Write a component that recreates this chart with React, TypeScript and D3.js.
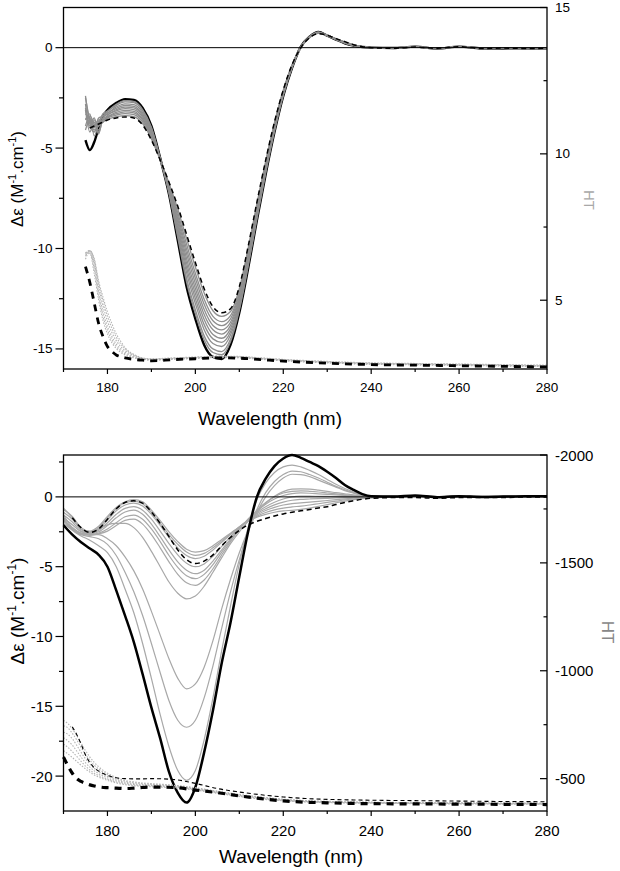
import React from "react";
import * as d3 from "d3";

// ---------------- TOP PANEL DATA ----------------
const WL_TOP = [175, 176, 177, 178, 179, 180, 182, 184, 186, 188, 190, 192, 194, 196, 198, 200, 202, 204, 206, 208, 210, 212, 214, 216, 218, 220, 222, 224, 226, 228, 230, 232, 234, 236, 238, 240, 245, 250, 255, 260, 265, 270, 275, 280];
const TOP_BLACK = [-4.6, -5.1, -4.7, -4.0, -3.4, -3.1, -2.75, -2.56, -2.6, -3.0, -3.9, -5.5, -7.3, -9.6, -11.9, -13.5, -14.8, -15.4, -15.5, -14.8, -13.2, -11.0, -8.6, -6.3, -4.2, -2.4, -1.0, 0.05, 0.55, 0.78, 0.6, 0.4, 0.22, 0.1, 0.03, 0.0, -0.02, 0.05, -0.04, 0.05, -0.03, -0.04, -0.03, -0.05];
const TOP_DASHED = [null, -4.0, -3.9, -3.8, -3.7, -3.6, -3.5, -3.45, -3.5, -3.85, -4.6, -5.6, -6.7, -7.9, -9.3, -10.7, -12.0, -12.9, -13.2, -13.0, -11.9, -9.9, -7.7, -5.6, -3.7, -2.1, -0.85, 0.0, 0.5, 0.7, 0.62, 0.45, 0.3, 0.15, 0.05, 0.0, -0.03, 0.03, -0.03, 0.05, -0.04, -0.02, -0.04, -0.03];
const TOP_GREY_1 = [-3.0, -3.9, -3.5, -4.2, -3.6, -3.56, -3.44, -3.38, -3.43, -3.78, -4.54, -5.59, -6.75, -8.04, -9.51, -10.92, -12.22, -13.1, -13.38, -13.14, -12.0, -9.99, -7.77, -5.66, -3.74, -2.12, -0.86, 0.0, 0.5, 0.71, 0.62, 0.45, 0.29, 0.15, 0.05, 0.0, -0.03, 0.04, -0.04, 0.05, -0.03, -0.03, -0.04, -0.04];
const TOP_GREY_2 = [-2.5, -3.6, -4.1, -3.9, -3.7, -3.51, -3.36, -3.28, -3.33, -3.69, -4.47, -5.58, -6.81, -8.22, -9.79, -11.23, -12.53, -13.38, -13.64, -13.34, -12.15, -10.11, -7.87, -5.73, -3.8, -2.16, -0.88, 0.01, 0.51, 0.72, 0.62, 0.44, 0.28, 0.14, 0.05, 0.0, -0.02, 0.05, -0.03, 0.06, -0.04, -0.02, -0.05, -0.03];
const TOP_GREY_3 = [-3.6, -3.3, -4.4, -3.8, -3.6, -3.46, -3.29, -3.2, -3.25, -3.61, -4.4, -5.57, -6.87, -8.38, -10.03, -11.48, -12.78, -13.6, -13.84, -13.5, -12.26, -10.21, -7.95, -5.8, -3.84, -2.18, -0.89, 0.01, 0.51, 0.72, 0.61, 0.44, 0.28, 0.14, 0.04, 0.0, -0.04, 0.03, -0.05, 0.04, -0.02, -0.04, -0.03, -0.05];
const TOP_GREY_4 = [-2.8, -4.0, -3.7, -4.3, -3.5, -3.42, -3.22, -3.12, -3.17, -3.54, -4.34, -5.56, -6.92, -8.53, -10.26, -11.74, -13.04, -13.83, -14.05, -13.67, -12.38, -10.31, -8.03, -5.86, -3.89, -2.21, -0.91, 0.02, 0.52, 0.73, 0.61, 0.43, 0.27, 0.13, 0.04, 0.0, -0.01, 0.05, -0.04, 0.05, -0.03, -0.03, -0.04, -0.02];
const TOP_GREY_5 = [-3.3, -3.5, -3.9, -3.6, -3.7, -3.37, -3.15, -3.04, -3.09, -3.46, -4.28, -5.55, -6.98, -8.68, -10.5, -11.99, -13.29, -14.05, -14.26, -13.83, -12.5, -10.41, -8.11, -5.92, -3.93, -2.24, -0.92, 0.02, 0.52, 0.74, 0.61, 0.43, 0.26, 0.13, 0.04, 0.0, -0.03, 0.04, -0.04, 0.04, -0.04, -0.02, -0.04, -0.04];
const TOP_GREY_6 = [-2.4, -3.8, -4.2, -3.7, -3.4, -3.33, -3.09, -2.96, -3.0, -3.38, -4.21, -5.55, -7.03, -8.84, -10.73, -12.24, -13.54, -14.28, -14.47, -13.99, -12.62, -10.51, -8.2, -5.99, -3.98, -2.27, -0.93, 0.03, 0.53, 0.74, 0.61, 0.42, 0.26, 0.12, 0.04, 0.0, -0.02, 0.06, -0.05, 0.05, -0.02, -0.05, -0.03, -0.05];
const TOP_GREY_7 = [-3.9, -3.4, -3.8, -4.1, -3.5, -3.28, -3.02, -2.88, -2.92, -3.31, -4.15, -5.54, -7.08, -8.99, -10.96, -12.49, -13.79, -14.5, -14.67, -14.15, -12.73, -10.6, -8.28, -6.05, -4.02, -2.29, -0.95, 0.03, 0.53, 0.75, 0.61, 0.42, 0.25, 0.12, 0.04, 0.0, -0.03, 0.05, -0.03, 0.04, -0.03, -0.03, -0.05, -0.03];
const TOP_GREY_8 = [-3.1, -4.2, -3.6, -3.9, -3.3, -3.24, -2.95, -2.8, -2.84, -3.23, -4.09, -5.53, -7.14, -9.14, -11.2, -12.74, -14.04, -14.73, -14.88, -14.31, -12.85, -10.7, -8.36, -6.11, -4.07, -2.32, -0.96, 0.04, 0.54, 0.76, 0.6, 0.41, 0.24, 0.11, 0.03, 0.0, -0.02, 0.04, -0.04, 0.05, -0.04, -0.04, -0.03, -0.04];
const TOP_GREY_9 = [-3.5, -3.7, -4.0, -3.5, -3.4, -3.18, -2.87, -2.7, -2.74, -3.14, -4.01, -5.52, -7.2, -9.33, -11.48, -13.05, -14.35, -15.0, -15.13, -14.51, -12.99, -10.82, -8.46, -6.19, -4.12, -2.35, -0.98, 0.04, 0.54, 0.77, 0.6, 0.41, 0.23, 0.11, 0.03, 0.0, -0.03, 0.05, -0.04, 0.05, -0.03, -0.04, -0.04, -0.05];
const TOP_GREY_10 = [-4.1, -3.6, -3.9, -3.7, -3.3, -3.15, -2.82, -2.64, -2.68, -3.08, -3.96, -5.51, -7.25, -9.45, -11.67, -13.25, -14.55, -15.18, -15.29, -14.64, -13.08, -10.9, -8.52, -6.24, -4.16, -2.37, -0.99, 0.05, 0.55, 0.77, 0.6, 0.4, 0.23, 0.1, 0.03, 0.0, -0.02, 0.05, -0.04, 0.05, -0.03, -0.04, -0.03, -0.05];
const TOP_GREYS = [TOP_GREY_1, TOP_GREY_2, TOP_GREY_3, TOP_GREY_4, TOP_GREY_5, TOP_GREY_6, TOP_GREY_7, TOP_GREY_8, TOP_GREY_9, TOP_GREY_10];

const WL_HT_TOP = [175, 176, 177, 178, 179, 180, 181, 182, 183, 184, 186, 188, 190, 195, 200, 205, 210, 215, 220, 230, 240, 250, 260, 270, 280];
const HT_TOP_BLACK = [6.15, 5.6, 4.9, 4.2, 3.75, 3.42, 3.25, 3.13, 3.07, 3.03, 2.98, 2.95, 2.93, 2.97, 3.0, 3.03, 3.02, 2.97, 2.92, 2.85, 2.8, 2.78, 2.76, 2.74, 2.72];
const HT_TOP_GREY_1 = [6.55, 6.6, 5.9, 5.0, 4.3, 3.85, 3.55, 3.35, 3.22, 3.13, 3.03, 2.98, 2.95, 2.98, 3.01, 3.04, 3.03, 2.98, 2.93, 2.86, 2.81, 2.79, 2.77, 2.75, 2.73];
const HT_TOP_GREY_2 = [6.6, 6.65, 6.05, 5.15, 4.45, 3.97, 3.65, 3.42, 3.28, 3.17, 3.05, 2.99, 2.96, 2.99, 3.02, 3.05, 3.04, 2.99, 2.94, 2.87, 2.82, 2.8, 2.78, 2.76, 2.74];
const HT_TOP_GREY_3 = [6.62, 6.68, 6.2, 5.3, 4.6, 4.1, 3.76, 3.5, 3.34, 3.22, 3.08, 3.0, 2.97, 3.0, 3.03, 3.06, 3.05, 3.0, 2.95, 2.88, 2.83, 2.81, 2.79, 2.77, 2.75];
const HT_TOP_GREY_4 = [6.6, 6.7, 6.3, 5.45, 4.8, 4.28, 3.9, 3.62, 3.42, 3.28, 3.11, 3.01, 2.98, 3.01, 3.04, 3.07, 3.06, 3.01, 2.96, 2.89, 2.84, 2.82, 2.8, 2.78, 2.76];
const HT_TOP_GREY_5 = [6.5, 6.7, 6.38, 5.58, 4.98, 4.45, 4.05, 3.74, 3.51, 3.34, 3.13, 3.02, 2.99, 3.02, 3.05, 3.08, 3.07, 3.02, 2.97, 2.9, 2.85, 2.83, 2.81, 2.79, 2.77];
const HT_TOP_GREY_6 = [6.4, 6.68, 6.42, 5.65, 5.1, 4.6, 4.2, 3.85, 3.6, 3.38, 3.15, 3.03, 3.0, 3.03, 3.06, 3.09, 3.08, 3.03, 2.98, 2.91, 2.86, 2.84, 2.82, 2.8, 2.78];
const HT_TOP_GREYS = [HT_TOP_GREY_1, HT_TOP_GREY_2, HT_TOP_GREY_3, HT_TOP_GREY_4, HT_TOP_GREY_5, HT_TOP_GREY_6];

// ---------------- BOTTOM PANEL DATA ----------------
const WL_BOT = [170, 172, 174, 176, 178, 180, 182, 184, 186, 188, 190, 192, 194, 196, 198, 200, 202, 204, 206, 208, 210, 212, 214, 216, 218, 220, 222, 224, 226, 228, 230, 232, 234, 236, 238, 240, 245, 250, 255, 260, 265, 270, 275, 280];
const BOT_BLACK = [-2.03, -2.7, -3.25, -3.7, -4.15, -5.0, -6.7, -8.5, -10.4, -12.7, -15.1, -17.3, -19.7, -21.2, -21.9, -20.8, -18.3, -15.3, -11.9, -9.0, -5.7, -2.5, 0.0, 1.3, 2.2, 2.75, 3.0, 2.8, 2.5, 2.2, 1.8, 1.35, 0.85, 0.5, 0.2, 0.05, 0.02, 0.1, -0.02, 0.05, 0.0, 0.02, 0.05, 0.05];
const BOT_DASHED = [null, -1.5, -2.2, -2.55, -2.3, -1.6, -0.85, -0.4, -0.28, -0.45, -1.08, -1.9, -2.85, -3.8, -4.5, -4.78, -4.6, -4.15, -3.5, -2.9, -2.4, -2.0, -1.75, -1.55, -1.37, -1.22, -1.1, -1.0, -0.9, -0.8, -0.7, -0.55, -0.4, -0.28, -0.17, -0.1, -0.05, -0.05, -0.1, -0.05, -0.05, -0.05, 0.0, 0.0];
const BOT_GREY_D1 = [-1.7, -2.4, -2.8, -3.1, -3.5, -4.0, -5.0, -6.6, -8.3, -10.5, -13.0, -15.6, -17.9, -19.6, -20.3, -19.6, -17.4, -14.4, -11.0, -7.8, -4.8, -2.2, -0.2, 1.0, 1.75, 2.15, 2.28, 2.15, 1.9, 1.6, 1.25, 0.9, 0.6, 0.35, 0.15, 0.05, 0.03, 0.08, 0.0, 0.06, 0.02, 0.03, 0.06, 0.04];
const BOT_GREY_D2 = [-1.5, -2.3, -2.7, -2.85, -3.0, -3.4, -4.2, -5.4, -6.8, -8.5, -10.5, -12.6, -14.6, -16.0, -16.5, -16.0, -14.4, -12.1, -9.4, -6.8, -4.5, -2.5, -0.9, 0.3, 1.1, 1.6, 1.85, 1.8, 1.6, 1.35, 1.05, 0.75, 0.5, 0.3, 0.13, 0.05, 0.02, 0.07, 0.01, 0.05, 0.03, 0.02, 0.07, 0.03];
const BOT_GREY_D3 = [-1.3, -2.2, -2.6, -2.7, -2.7, -3.0, -3.5, -4.3, -5.3, -6.6, -8.2, -9.9, -11.6, -13.0, -13.75, -13.4, -12.2, -10.3, -8.0, -5.9, -4.0, -2.4, -1.1, 0.0, 0.8, 1.35, 1.62, 1.6, 1.45, 1.2, 0.95, 0.7, 0.45, 0.27, 0.12, 0.04, 0.03, 0.06, 0.0, 0.05, 0.02, 0.04, 0.06, 0.05];
const BOT_GREY_S1 = [-0.9, -1.4, -2.2, -2.45, -2.1, -1.4, -0.75, -0.35, -0.2, -0.35, -0.95, -1.7, -2.5, -3.2, -3.75, -3.95, -3.85, -3.5, -3.05, -2.6, -2.15, -1.75, -1.45, -1.25, -1.1, -1.0, -0.96, -0.9, -0.8, -0.68, -0.55, -0.42, -0.3, -0.2, -0.12, -0.07, -0.02, 0.03, -0.03, 0.04, 0.0, 0.01, 0.05, 0.02];
const BOT_GREY_S2 = [-1.1, -1.6, -2.3, -2.5, -2.2, -1.5, -0.85, -0.42, -0.3, -0.5, -1.1, -1.9, -2.7, -3.4, -3.95, -4.19, -4.05, -3.65, -3.15, -2.65, -2.15, -1.72, -1.38, -1.12, -0.93, -0.8, -0.72, -0.66, -0.58, -0.49, -0.4, -0.31, -0.22, -0.15, -0.09, -0.05, 0.0, 0.04, -0.02, 0.05, 0.01, 0.02, 0.06, 0.03];
const BOT_GREY_S3 = [-0.8, -1.5, -2.35, -2.55, -2.3, -1.65, -1.0, -0.58, -0.45, -0.65, -1.25, -2.05, -2.9, -3.65, -4.2, -4.42, -4.25, -3.8, -3.25, -2.7, -2.15, -1.68, -1.3, -0.98, -0.75, -0.58, -0.48, -0.43, -0.38, -0.32, -0.26, -0.2, -0.14, -0.09, -0.05, -0.03, 0.01, 0.05, -0.01, 0.04, 0.02, 0.03, 0.05, 0.04];
const BOT_GREY_S4 = [-1.3, -1.8, -2.45, -2.6, -2.4, -1.85, -1.25, -0.82, -0.7, -0.95, -1.6, -2.45, -3.35, -4.15, -4.75, -5.0, -4.8, -4.25, -3.55, -2.85, -2.2, -1.65, -1.2, -0.85, -0.57, -0.37, -0.24, -0.18, -0.15, -0.12, -0.1, -0.08, -0.06, -0.04, -0.02, -0.01, 0.02, 0.06, 0.0, 0.05, 0.01, 0.02, 0.07, 0.03];
const BOT_GREY_S5 = [-1.5, -2.0, -2.5, -2.65, -2.5, -2.05, -1.5, -1.08, -0.95, -1.25, -1.95, -2.85, -3.8, -4.65, -5.25, -5.5, -5.25, -4.6, -3.8, -3.0, -2.25, -1.63, -1.12, -0.7, -0.38, -0.15, 0.0, 0.05, 0.05, 0.04, 0.03, 0.02, 0.02, 0.01, 0.0, 0.0, 0.03, 0.05, 0.01, 0.06, 0.02, 0.04, 0.06, 0.05];
const BOT_GREY_S6 = [-1.7, -2.2, -2.6, -2.7, -2.6, -2.3, -1.85, -1.42, -1.3, -1.6, -2.3, -3.2, -4.2, -5.05, -5.65, -5.86, -5.55, -4.85, -3.95, -3.1, -2.3, -1.6, -1.02, -0.52, -0.15, 0.1, 0.24, 0.28, 0.26, 0.22, 0.18, 0.14, 0.1, 0.07, 0.04, 0.02, 0.02, 0.06, 0.0, 0.04, 0.03, 0.02, 0.05, 0.04];
const BOT_GREY_S7 = [-1.9, -2.35, -2.65, -2.75, -2.65, -2.45, -2.05, -1.68, -1.6, -1.95, -2.7, -3.65, -4.65, -5.55, -6.15, -6.34, -5.95, -5.15, -4.15, -3.2, -2.35, -1.6, -0.95, -0.4, 0.0, 0.28, 0.4, 0.43, 0.4, 0.35, 0.28, 0.21, 0.15, 0.1, 0.06, 0.03, 0.03, 0.07, 0.01, 0.05, 0.02, 0.03, 0.06, 0.05];
const BOT_GREY_S8 = [-1.6, -2.3, -2.7, -2.6, -2.3, -2.0, -1.9, -1.9, -2.2, -2.9, -3.9, -5.0, -6.1, -6.9, -7.3, -7.1, -6.4, -5.4, -4.35, -3.35, -2.5, -1.75, -1.05, -0.45, 0.05, 0.38, 0.55, 0.58, 0.55, 0.48, 0.4, 0.3, 0.22, 0.14, 0.08, 0.04, 0.02, 0.06, 0.0, 0.05, 0.03, 0.02, 0.06, 0.04];
const BOT_GREYS = [BOT_GREY_D1, BOT_GREY_D2, BOT_GREY_D3, BOT_GREY_S1, BOT_GREY_S2, BOT_GREY_S3, BOT_GREY_S4, BOT_GREY_S5, BOT_GREY_S6, BOT_GREY_S7, BOT_GREY_S8];

const WL_HT_BOT = [170, 171, 172, 173, 174, 175, 176, 177, 178, 180, 182, 184, 186, 188, 190, 195, 200, 205, 210, 215, 220, 225, 230, 240, 250, 260, 270, 280];
const HT_BOT_BLACK = [-600, -560, -525, -500, -487, -478, -471, -466, -462, -458, -456, -454, -456, -459, -461, -459, -447, -435, -420, -407, -397, -391, -388, -384, -383, -382, -381, -380];
const HT_BOT_DASHED = [null, null, -740, -705, -660, -610, -575, -550, -535, -515, -504, -500, -499, -499, -500, -496, -478, -454, -438, -425, -415, -408, -404, -400, -398, -396, -394, -393];
const HT_BOT_GREY_1 = [-770, -755, -730, -700, -665, -630, -600, -575, -555, -525, -505, -492, -485, -480, -477, -470, -458, -442, -427, -415, -405, -399, -395, -391, -389, -388, -387, -386];
const HT_BOT_GREY_2 = [-745, -735, -710, -680, -645, -612, -585, -562, -545, -518, -500, -488, -481, -477, -474, -468, -456, -440, -425, -413, -403, -397, -393, -390, -388, -387, -386, -385];
const HT_BOT_GREY_3 = [-715, -705, -685, -655, -622, -592, -568, -548, -533, -510, -494, -483, -477, -473, -471, -465, -453, -438, -423, -411, -401, -395, -392, -389, -387, -386, -385, -384];
const HT_BOT_GREY_4 = [-690, -675, -655, -628, -600, -574, -553, -536, -523, -503, -489, -479, -473, -470, -468, -462, -451, -436, -421, -409, -400, -394, -391, -388, -386, -385, -384, -383];
const HT_BOT_GREY_5 = [-660, -645, -625, -603, -580, -558, -540, -525, -514, -497, -484, -475, -470, -467, -465, -460, -449, -434, -419, -407, -398, -393, -390, -387, -385, -384, -383, -382];
const HT_BOT_GREY_6 = [-630, -615, -598, -580, -562, -545, -530, -517, -507, -492, -480, -472, -467, -464, -462, -457, -447, -432, -417, -405, -397, -392, -389, -386, -384, -383, -382, -381];
const HT_BOT_GREYS = [HT_BOT_GREY_1, HT_BOT_GREY_2, HT_BOT_GREY_3, HT_BOT_GREY_4, HT_BOT_GREY_5, HT_BOT_GREY_6];

// ---------------- AXIS TICKS ----------------
const X_MAJOR = [180, 200, 220, 240, 260, 280];
const X_MINOR = [170, 190, 210, 230, 250, 270];
const TOP_L_MAJOR = [-15, -10, -5, 0];
const TOP_L_MINOR = [-12.5, -7.5, -2.5];
const TOP_R_MAJOR = [5, 10, 15];
const TOP_R_MINOR = [7.5, 12.5];
const BOT_L_MAJOR = [-20, -15, -10, -5, 0];
const BOT_L_MINOR = [-17.5, -12.5, -7.5, -2.5, 2.5];
const BOT_R_MAJOR = [-2000, -1500, -1000, -500];
const BOT_R_MINOR = [-1750, -1250, -750];

const FONT = "'Liberation Sans', Arial, Helvetica, sans-serif";
const LEFT = 63.5;
const RIGHT = 547;
const xScale = d3.scaleLinear().domain([170, 280]).range([LEFT, RIGHT]);

type Val = number | null;
function makePath(xs: number[], ys: Val[], y: d3.ScaleLinear<number, number>): string {
  const pts: [number, Val][] = xs.map((w, i) => [w, ys[i]]);
  const gen = d3
    .line<[number, Val]>()
    .defined((d) => d[1] !== null && d[1] !== undefined)
    .x((d) => xScale(d[0]))
    .y((d) => y(d[1] as number))
    .curve(d3.curveMonotoneX);
  return gen(pts) || "";
}

interface AxesProps {
  top: number;
  bottom: number;
  yL: d3.ScaleLinear<number, number>;
  yR: d3.ScaleLinear<number, number>;
  lMajor: number[];
  lMinor: number[];
  rMajor: number[];
  rMinor: number[];
  tickFont: number;
  xLabelBase: number;
  yLabelSize: number;
  yLabelX: number;
  yLabelY: number;
  wlX: number;
  wlY: number;
  htX: number;
  htY: number;
  htSize: number;
  htColor: string;
}

function Axes(p: AxesProps) {
  const sup = Math.round(p.yLabelSize * 0.62);
  const shift = Math.round(p.yLabelSize * 0.42);
  return (
    <g fontFamily={FONT} fill="#000">
      <rect x={LEFT} y={p.top} width={RIGHT - LEFT} height={p.bottom - p.top} fill="none" stroke="#000" strokeWidth={1.3} />
      <line x1={LEFT} x2={RIGHT} y1={p.yL(0)} y2={p.yL(0)} stroke="#000" strokeWidth={1} />
      {p.lMajor.map((v) => (
        <g key={"lm" + v}>
          <line x1={LEFT - 8} x2={LEFT} y1={p.yL(v)} y2={p.yL(v)} stroke="#000" strokeWidth={1.2} />
          <text x={LEFT - 11} y={p.yL(v)} textAnchor="end" dominantBaseline="central" fontSize={p.tickFont}>{v}</text>
        </g>
      ))}
      {p.lMinor.map((v) => (
        <line key={"ln" + v} x1={LEFT - 4.5} x2={LEFT} y1={p.yL(v)} y2={p.yL(v)} stroke="#000" strokeWidth={1.2} />
      ))}
      {p.rMajor.map((v) => (
        <g key={"rm" + v}>
          <line x1={RIGHT - 7} x2={RIGHT} y1={p.yR(v)} y2={p.yR(v)} stroke="#000" strokeWidth={1.2} />
          <text x={RIGHT + 8} y={p.yR(v)} textAnchor="start" dominantBaseline="central" fontSize={p.tickFont}>{v}</text>
        </g>
      ))}
      {p.rMinor.map((v) => (
        <line key={"rn" + v} x1={RIGHT - 3.5} x2={RIGHT} y1={p.yR(v)} y2={p.yR(v)} stroke="#000" strokeWidth={1.2} />
      ))}
      {X_MAJOR.map((v) => (
        <g key={"xm" + v}>
          <line x1={xScale(v)} x2={xScale(v)} y1={p.bottom} y2={p.bottom + 5} stroke="#000" strokeWidth={1.2} />
          <text x={xScale(v)} y={p.xLabelBase} textAnchor="middle" fontSize={p.tickFont}>{v}</text>
        </g>
      ))}
      {X_MINOR.map((v) => (
        <line key={"xn" + v} x1={xScale(v)} x2={xScale(v)} y1={p.bottom} y2={p.bottom + 3} stroke="#000" strokeWidth={1.2} />
      ))}
      <text x={p.wlX} y={p.wlY} textAnchor="middle" fontSize={19}>Wavelength (nm)</text>
      <text transform={`translate(${p.yLabelX},${p.yLabelY}) rotate(-90)`} textAnchor="middle" fontSize={p.yLabelSize}>
        Δε (M
        <tspan dy={-shift} fontSize={sup}>-1</tspan>
        <tspan dy={shift} fontSize={p.yLabelSize}>.cm</tspan>
        <tspan dy={-shift} fontSize={sup}>-1</tspan>
        <tspan dy={shift} fontSize={p.yLabelSize}>)</tspan>
      </text>
      <text transform={`translate(${p.htX},${p.htY}) rotate(90)`} textAnchor="middle" dominantBaseline="central" fontSize={p.htSize} fill={p.htColor}>HT</text>
    </g>
  );
}

export default function App() {
  // top panel scales
  const tTop = 7.5, tBot = 369;
  const tyL = d3.scaleLinear().domain([-16, 2]).range([tBot, tTop]);
  const tyR = d3.scaleLinear().domain([2.65, 15]).range([tBot, tTop]);
  // bottom panel scales
  const bTop = 455, bBot = 811;
  const byL = d3.scaleLinear().domain([-22.5, 3]).range([bBot, bTop]);
  const byR = d3.scaleLinear().domain([-350, -2000]).range([bBot, bTop]);

  return (
    <svg width={620} height={871} style={{ position: "absolute", left: 0, top: 0, background: "#fff" }}>
      <rect x={0} y={0} width={620} height={871} fill="#fff" />
      {/* ---------- TOP PANEL ---------- */}
      <g>
        <path d={makePath(WL_TOP, TOP_BLACK, tyL)} fill="none" stroke="#000" strokeWidth={2.4} />
        {TOP_GREYS.map((s, i) => (
          <path key={"tg" + i} d={makePath(WL_TOP, s, tyL)} fill="none" stroke="#8e8e8e" strokeWidth={1.3} />
        ))}
        <path d={makePath(WL_TOP, TOP_DASHED, tyL)} fill="none" stroke="#000" strokeWidth={1.5} strokeDasharray="5,3.5" />
        {HT_TOP_GREYS.map((s, i) => (
          <path key={"thg" + i} d={makePath(WL_HT_TOP, s, tyR)} fill="none" stroke="#b4b4b4" strokeWidth={1.1} strokeDasharray="1.5,1.5" />
        ))}
        <path d={makePath(WL_HT_TOP, HT_TOP_BLACK, tyR)} fill="none" stroke="#000" strokeWidth={2.8} strokeDasharray="7,6" />
      </g>
      <Axes
        top={tTop} bottom={tBot} yL={tyL} yR={tyR}
        lMajor={TOP_L_MAJOR} lMinor={TOP_L_MINOR} rMajor={TOP_R_MAJOR} rMinor={TOP_R_MINOR}
        tickFont={13.5} xLabelBase={392} yLabelSize={17} yLabelX={23} yLabelY={179}
        wlX={270} wlY={425} htX={589} htY={200} htSize={15} htColor="#a8a8a8"
      />
      {/* ---------- BOTTOM PANEL ---------- */}
      <g>
        {BOT_GREYS.map((s, i) => (
          <path key={"bg" + i} d={makePath(WL_BOT, s, byL)} fill="none" stroke="#a8a8a8" strokeWidth={1.2} />
        ))}
        <path d={makePath(WL_BOT, BOT_BLACK, byL)} fill="none" stroke="#000" strokeWidth={2.5} />
        <path d={makePath(WL_BOT, BOT_DASHED, byL)} fill="none" stroke="#000" strokeWidth={1.5} strokeDasharray="5,3.5" />
        {HT_BOT_GREYS.map((s, i) => (
          <path key={"bhg" + i} d={makePath(WL_HT_BOT, s, byR)} fill="none" stroke="#b4b4b4" strokeWidth={1.1} strokeDasharray="1.5,1.5" />
        ))}
        <path d={makePath(WL_HT_BOT, HT_BOT_DASHED, byR)} fill="none" stroke="#000" strokeWidth={1.1} strokeDasharray="4,3" />
        <path d={makePath(WL_HT_BOT, HT_BOT_BLACK, byR)} fill="none" stroke="#000" strokeWidth={3.2} strokeDasharray="7,6" />
      </g>
      <Axes
        top={bTop} bottom={bBot} yL={byL} yR={byR}
        lMajor={BOT_L_MAJOR} lMinor={BOT_L_MINOR} rMajor={BOT_R_MAJOR} rMinor={BOT_R_MINOR}
        tickFont={15} xLabelBase={836} yLabelSize={19} yLabelX={24} yLabelY={611}
        wlX={291} wlY={863} htX={607} htY={632} htSize={17} htColor="#888"
      />
    </svg>
  );
}
